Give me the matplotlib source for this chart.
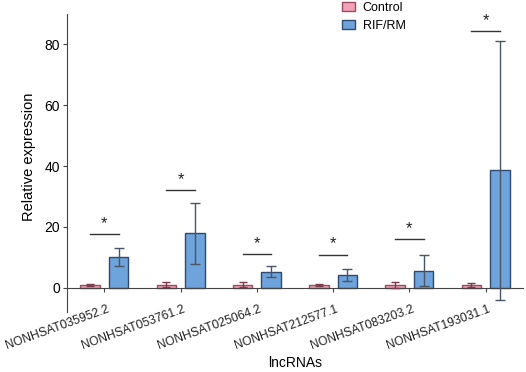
import numpy as np
import matplotlib
matplotlib.use('Agg')
import matplotlib.pyplot as plt
import matplotlib.transforms as mtransforms

plt.rcParams['font.family'] = ['Liberation Sans', 'DejaVu Sans']

genes = ['NONHSAT035952.2', 'NONHSAT053761.2', 'NONHSAT025064.2',
         'NONHSAT212577.1', 'NONHSAT083203.2', 'NONHSAT193031.1']
control_mean = [0.9, 1.0, 1.0, 1.0, 0.9, 0.9]
control_err = [0.4, 0.8, 0.8, 0.3, 0.9, 0.6]
rif_mean = [10.0, 17.9, 5.3, 4.2, 5.6, 38.6]
rif_err = [2.9, 10.1, 1.8, 2.1, 5.2, 42.6]
sig_y = [17.7, 32.0, 11.1, 10.9, 16.0, 84.4]

x = np.arange(len(genes))
w = 0.255
off = 0.187

fig = plt.figure(figsize=(5.26, 3.72), dpi=100)
ax = fig.add_axes([0.1274, 0.1613, 0.8669, 0.8011])

ax.bar(x - off, control_mean, w, color='#F2A3BA', edgecolor='#9B4A60',
       linewidth=1, label='Control', zorder=2)
ax.bar(x + off, rif_mean, w, color='#6FA3DC', edgecolor='#2E4A70',
       linewidth=1, label='RIF/RM', zorder=2)
ax.errorbar(x - off, control_mean, yerr=control_err, fmt='none',
            ecolor='#7a3a4c', elinewidth=1, capsize=3, capthick=1, zorder=3)
ax.errorbar(x + off, rif_mean, yerr=rif_err, fmt='none',
            ecolor='#4a5566', elinewidth=1, capsize=3.5, capthick=1, zorder=3)

for i in range(len(genes)):
    ax.plot([x[i] - off, x[i] + off], [sig_y[i], sig_y[i]], color='#333333', lw=1)
    ax.text(x[i], sig_y[i] + 1.0, '*', ha='center', va='bottom', fontsize=12,
            color='#222222')

ax.set_xlim(-0.49, 5.49)
ax.set_ylim(-8, 90)
ax.set_yticks([0, 20, 40, 60, 80])
ax.spines['top'].set_visible(False)
ax.spines['right'].set_visible(False)
ax.spines['bottom'].set_position(('data', 0))
ax.spines['left'].set_color('#444444')
ax.spines['bottom'].set_color('#444444')
ax.tick_params(axis='y', labelsize=10, length=3, color='#444444', pad=2)
ax.tick_params(axis='x', length=3, color='#444444', pad=8)
ax.set_xticks(x)
ax.set_xticklabels(genes, rotation=20, ha='right', rotation_mode='anchor',
                   fontsize=8.7, color='#222222')
shift = mtransforms.ScaledTranslation(2 / 100, 0, fig.dpi_scale_trans)
for lab in ax.get_xticklabels():
    lab.set_transform(lab.get_transform() + shift)

ax.set_ylabel('Relative expression', fontsize=10.5)
ax.yaxis.set_label_coords(-0.068, 0.52)
fig.text(0.561, 0.005, 'lncRNAs', ha='center', va='bottom', fontsize=10)

fig.legend(loc='upper left', bbox_to_anchor=(0.629, 1.025), frameon=False,
           fontsize=9, handlelength=1.05, handleheight=0.7, handletextpad=0.6,
           labelspacing=0.45)

fig.savefig('out.png', dpi=100)
